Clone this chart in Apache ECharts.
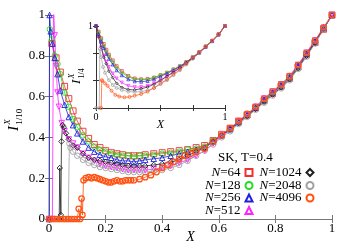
<!DOCTYPE html>
<html><head><meta charset="utf-8">
<script src="https://cdn.jsdelivr.net/npm/echarts@6/dist/echarts.min.js"></script>
<style>html,body{margin:0;padding:0;background:#fff}#c{width:353px;height:247px}</style>
</head><body><div id="c"></div>
<script>
// ---- categories / legend names ----
const seriesNames = ['N=64','N=128','N=256','N=512','N=1024','N=2048','N=4096'];
const annotation = 'SK, T=0.4';

// ---- main plot: I^X_{1/10} vs X ----
const tailX = [0.55,0.58,0.61,0.64,0.67,0.70,0.73,0.76,0.79,0.82,0.85,0.88,0.91,0.94,0.97,1.0];

const x64 = [0.01,0.025,0.04,0.055,0.07,0.085,0.10,0.12,0.14,0.16,0.18,0.20,0.22,0.24,0.26,0.28,0.30,0.32,0.34,0.37,0.40,0.43,0.46,0.49,0.52];
const y64 = [0.86,0.79,0.72,0.65,0.59,0.53,0.48,0.43,0.395,0.365,0.35,0.335,0.325,0.32,0.315,0.31,0.31,0.31,0.315,0.32,0.325,0.33,0.335,0.34,0.35];
const t64 = [0.36,0.385,0.415,0.445,0.48,0.51,0.545,0.58,0.615,0.65,0.69,0.745,0.805,0.865,0.93,1.0];

const x128 = [0.003,0.01,0.02,0.03,0.04,0.055,0.07,0.085,0.10,0.12,0.14,0.16,0.18,0.20,0.22,0.24,0.26,0.28,0.30,0.32,0.34,0.37,0.40,0.43,0.46,0.49,0.52];
const y128 = [0.93,0.88,0.80,0.76,0.71,0.62,0.55,0.49,0.45,0.41,0.38,0.355,0.34,0.33,0.32,0.315,0.31,0.31,0.305,0.31,0.31,0.315,0.32,0.325,0.33,0.34,0.345];
const t128 = [0.355,0.385,0.41,0.44,0.475,0.51,0.545,0.58,0.62,0.655,0.695,0.75,0.81,0.87,0.935,1.0];

const x256 = [0,0.002,0.006,0.012,0.02,0.03,0.04,0.055,0.07,0.085,0.10,0.12,0.14,0.16,0.18,0.20,0.22,0.24,0.26,0.28,0.30,0.32,0.34,0.37,0.40,0.43,0.46,0.49,0.52];
const y256 = [0,1.0,0.92,0.86,0.79,0.71,0.63,0.56,0.50,0.46,0.42,0.38,0.35,0.33,0.315,0.305,0.30,0.29,0.285,0.285,0.28,0.285,0.29,0.295,0.30,0.31,0.32,0.33,0.34];
const t256 = [0.35,0.38,0.41,0.44,0.475,0.51,0.545,0.585,0.62,0.655,0.695,0.75,0.81,0.87,0.935,1.0];

const x512 = [0,0.012,0.016,0.02,0.025,0.03,0.035,0.045,0.055,0.07,0.085,0.10,0.12,0.14,0.16,0.18,0.20,0.22,0.24,0.26,0.28,0.30,0.32,0.34,0.37,0.40,0.43,0.46,0.49,0.52];
const y512 = [0,0,1.05,0.90,0.75,0.62,0.55,0.47,0.43,0.39,0.37,0.35,0.32,0.30,0.285,0.27,0.26,0.255,0.25,0.245,0.24,0.24,0.24,0.24,0.245,0.25,0.26,0.275,0.29,0.31];
const t512 = [0.335,0.37,0.405,0.44,0.475,0.51,0.55,0.59,0.625,0.66,0.70,0.755,0.815,0.875,0.935,1.0];

const x1024 = [0,0.036,0.038,0.042,0.044,0.048,0.052,0.06,0.07,0.085,0.10,0.12,0.14,0.16,0.18,0.20,0.22,0.24,0.26,0.28,0.30,0.32,0.34,0.37,0.40,0.43,0.46,0.49,0.52];
const y1024 = [0,0,0.25,0.02,0.38,0.46,0.45,0.42,0.39,0.36,0.35,0.32,0.30,0.29,0.285,0.28,0.275,0.27,0.265,0.26,0.26,0.26,0.26,0.265,0.27,0.28,0.29,0.31,0.33];
const t1024 = [0.35,0.38,0.41,0.44,0.47,0.505,0.54,0.575,0.61,0.645,0.685,0.74,0.80,0.865,0.93,1.0];

const x2048 = [0,0.068,0.072,0.076,0.085,0.10,0.12,0.14,0.16,0.18,0.20,0.22,0.24,0.26,0.28,0.30,0.32,0.34,0.37,0.40,0.43,0.46,0.49,0.52];
const y2048 = [0,0,0.37,0.35,0.33,0.31,0.29,0.275,0.265,0.255,0.25,0.245,0.24,0.235,0.23,0.23,0.23,0.23,0.235,0.24,0.25,0.265,0.285,0.31];
const t2048 = [0.335,0.365,0.40,0.43,0.465,0.50,0.535,0.57,0.605,0.64,0.68,0.735,0.795,0.86,0.93,1.0];

const x4096 = [0,0.01,0.02,0.03,0.04,0.05,0.06,0.07,0.08,0.09,0.10,0.105,0.11,0.115,0.118,0.122,0.13,0.14,0.15,0.16,0.17,0.18,0.19,0.20,0.21,0.22,0.23,0.24,0.25,0.26,0.27,0.28,0.29,0.30,0.32,0.34,0.36,0.38,0.40,0.42,0.44,0.46,0.48,0.50,0.52];
const y4096 = [0,0,0,0,0,0,0,0,0,0,0,0.05,0,0.10,0.02,0.19,0.20,0.205,0.20,0.205,0.20,0.195,0.19,0.185,0.18,0.18,0.185,0.19,0.185,0.185,0.19,0.19,0.19,0.19,0.195,0.205,0.215,0.23,0.25,0.265,0.28,0.295,0.31,0.32,0.33];
const t4096 = [0.345,0.38,0.41,0.445,0.48,0.515,0.55,0.59,0.625,0.66,0.70,0.755,0.815,0.875,0.94,1.0];

// ---- inset: I^X_{1/4} vs X ----
const xin = [0,0.02,0.04,0.06,0.08,0.10,0.13,0.16,0.20,0.25,0.30,0.35,0.40,0.45,0.50,0.55,0.60,0.65,0.70,0.75,0.80,0.85,0.90,0.95,1.0];
const in64   = [1.0,0.93,0.85,0.78,0.71,0.65,0.58,0.51,0.45,0.39,0.36,0.35,0.355,0.37,0.40,0.43,0.47,0.51,0.56,0.62,0.68,0.75,0.82,0.90,1.0];
const in128  = [1.0,0.92,0.84,0.76,0.69,0.63,0.56,0.49,0.43,0.38,0.35,0.345,0.35,0.37,0.40,0.43,0.47,0.51,0.56,0.62,0.68,0.75,0.82,0.90,1.0];
const in256  = [1.0,0.90,0.81,0.73,0.66,0.60,0.53,0.46,0.40,0.35,0.325,0.32,0.33,0.35,0.385,0.42,0.46,0.505,0.555,0.615,0.675,0.745,0.815,0.895,1.0];
const in512  = [1.0,0.86,0.74,0.64,0.56,0.50,0.42,0.36,0.31,0.27,0.255,0.255,0.27,0.30,0.34,0.39,0.44,0.49,0.55,0.61,0.675,0.745,0.815,0.895,1.0];
const in1024 = [1.0,0.87,0.74,0.62,0.54,0.45,0.37,0.30,0.25,0.225,0.22,0.235,0.255,0.29,0.335,0.385,0.435,0.49,0.55,0.61,0.675,0.745,0.815,0.895,1.0];
const xin2048 = [0,0.025,0.03,0.04,0.055,0.07,0.10,0.13,0.16,0.20,0.25,0.30,0.35,0.40,0.45,0.50,0.55,0.60,0.65,0.70,0.75,0.80,0.85,0.90,0.95,1.0];
const in2048 = [0,0,0.72,0.62,0.50,0.43,0.34,0.28,0.245,0.22,0.20,0.195,0.20,0.215,0.245,0.29,0.34,0.40,0.46,0.53,0.60,0.67,0.745,0.815,0.895,1.0];
const xin4096 = [0.04,0.045,0.05,0.07,0.09,0.12,0.15,0.18,0.22,0.26,0.30,0.35,0.40,0.45,0.50,0.55,0.60,0.65,0.70,0.75,0.80,0.85,0.90,0.95,1.0];
const in4096 = [0,0.34,0.33,0.30,0.27,0.21,0.16,0.14,0.13,0.135,0.15,0.17,0.20,0.245,0.30,0.35,0.41,0.47,0.54,0.61,0.68,0.75,0.82,0.90,1.0];

// ---- tick labels ----
const xTicks = [0,0.2,0.4,0.6,0.8,1];
const yTicks = [0,0.2,0.4,0.6,0.8,1];

const colors = ['#f03030','#22dd22','#2020e0','#ff22ff','#202020','#a0a0a0','#ff5010'];
const symbols = ['rect','circle','triangle','triangle','diamond','circle','circle'];
const rotates = [0,0,0,180,0,0,0];

const mainX = [x64.concat(tailX), x128.concat(tailX), x256.concat(tailX), x512.concat(tailX), x1024.concat(tailX), x2048.concat(tailX), x4096.concat(tailX)];
const mainY = [y64.concat(t64), y128.concat(t128), y256.concat(t256), y512.concat(t512), y1024.concat(t1024), y2048.concat(t2048), y4096.concat(t4096)];
const insX = [xin, xin, xin, xin, xin, xin2048, xin4096];
const insY = [in64, in128, in256, in512, in1024, in2048, in4096];

const serif = 'Liberation Serif';
const series = [];
function addSeries(i, xs, ys, axis, size, lw, bw, zBase) {
  const data = xs.map((x, k) => [x, ys[k]]);
  series.push({
    name: 'line' + axis + '_' + i, type: 'line', xAxisIndex: axis, yAxisIndex: axis,
    data: data, showSymbol: false, symbol: 'none',
    lineStyle: { color: colors[i], width: lw }, itemStyle: { color: colors[i] },
    emphasis: { disabled: true }, animation: false, z: zBase + i
  });
  series.push({
    name: axis === 0 ? seriesNames[i] : 'pts' + axis + '_' + i, type: 'scatter', xAxisIndex: axis, yAxisIndex: axis,
    data: data, symbol: symbols[i], symbolRotate: rotates[i], symbolSize: size,
    itemStyle: { color: 'rgba(255,255,255,0)', borderColor: colors[i], borderWidth: bw, opacity: 1 },
    emphasis: { disabled: true }, animation: false, z: zBase + 10 + i
  });
}
for (let i = 0; i < 7; i++) addSeries(i, mainX[i], mainY[i], 0, i === 0 ? 6 : 5.5, 0.8, i === 6 ? 1.2 : 0.9, 2);
for (let i = 0; i < 7; i++) addSeries(i, insX[i], insY[i], 2, 3, 0.7, 0.7, 30);

const lab = { fontFamily: serif, fontSize: 13, color: '#000' };
const mainAxisLine = { lineStyle: { color: '#777', width: 1 } };
const inAxisLine = { lineStyle: { color: '#333', width: 1 } };
const richBase = { fontFamily: serif, fontSize: 13, color: '#000', lineHeight: 13 };
const legendText = {
  fontFamily: serif, fontSize: 13, color: '#000', lineHeight: 13,
  rich: { i: Object.assign({ fontStyle: 'italic' }, richBase), r: Object.assign({}, richBase) }
};
const legendPos = [[99.5, 166], [99.5, 179], [99.5, 191.5], [99.5, 204], [38.5, 166], [38.5, 179], [38.5, 191.5]];
const legends = seriesNames.map((n, i) => ({
  data: [n], orient: 'vertical', right: legendPos[i][0], top: legendPos[i][1], align: 'right',
  itemWidth: 7, itemHeight: 7, selectedMode: false, padding: 0,
  formatter: nm => '{i|N}{r|' + nm.slice(1) + '}', textStyle: legendText
}));

function titleGroup(x, y, sub, isz) {
  return {
    type: 'group', x: x, y: y, rotation: Math.PI / 2,
    children: [
      { type: 'text', x: 0, y: 0, style: { text: 'I', font: 'italic ' + isz + 'px ' + serif, fill: '#000', verticalAlign: 'middle', align: 'left' } },
      { type: 'text', x: isz * 0.42, y: -isz * 0.42, style: { text: 'X', font: 'italic ' + Math.round(isz * 0.62) + 'px ' + serif, fill: '#000', verticalAlign: 'middle', align: 'left' } },
      { type: 'text', x: isz * 0.42, y: isz * 0.35, style: { text: sub, font: Math.round(isz * 0.6) + 'px ' + serif, fill: '#000', verticalAlign: 'middle', align: 'left' } }
    ]
  };
}

const chart = echarts.init(document.getElementById('c'), null, { renderer: 'canvas' });
chart.setOption({
  backgroundColor: '#fff',
  animation: false,
  grid: [
    { left: 49, right: 21, top: 15, bottom: 28, containLabel: false, outerBoundsMode: 'none' },
    { left: 96, right: 128, top: 26, bottom: 139, containLabel: false, outerBoundsMode: 'none' }
  ],
  xAxis: [
    { gridIndex: 0, type: 'value', min: 0, max: 1, interval: 0.2, position: 'bottom',
      axisLine: mainAxisLine, axisTick: { inside: true, length: 4, lineStyle: { color: '#777' } },
      axisLabel: Object.assign({ margin: 3, formatter: v => String(xTicks.find(t => Math.abs(t - v) < 1e-6) ?? v) }, lab),
      splitLine: { show: false }, nameMoveOverlap: false,
      name: 'X', nameLocation: 'middle', nameGap: 11, nameTextStyle: { fontFamily: serif, fontSize: 14, fontStyle: 'italic', color: '#000' } },
    { gridIndex: 0, type: 'value', min: 0, max: 1, interval: 0.2, position: 'top',
      axisLine: mainAxisLine, axisTick: { inside: true, length: 4, lineStyle: { color: '#777' } },
      axisLabel: { show: false }, splitLine: { show: false } },
    { gridIndex: 1, type: 'value', min: 0, max: 1, interval: 0.25, position: 'bottom',
      axisLine: inAxisLine, axisTick: { inside: true, length: 3, lineStyle: { color: '#333' } },
      axisLabel: { margin: 4, fontFamily: serif, fontSize: 10, color: '#000', formatter: v => (v === 0 ? '0' : v === 1 ? '1' : '') },
      splitLine: { show: false }, nameMoveOverlap: false,
      name: 'X', nameLocation: 'middle', nameGap: 11, nameTextStyle: { fontFamily: serif, fontSize: 12, fontStyle: 'italic', color: '#000' } },
    { gridIndex: 1, type: 'value', min: 0, max: 1, interval: 0.25, position: 'top',
      axisLine: inAxisLine, axisTick: { inside: true, length: 3, lineStyle: { color: '#333' } },
      axisLabel: { show: false }, splitLine: { show: false } }
  ],
  yAxis: [
    { gridIndex: 0, type: 'value', min: 0, max: 1, interval: 0.2, position: 'left',
      axisLine: Object.assign({ show: true }, mainAxisLine), axisTick: { show: true, inside: true, length: 4, lineStyle: { color: '#777' } },
      axisLabel: Object.assign({ margin: 4, formatter: v => String(yTicks.find(t => Math.abs(t - v) < 1e-6) ?? v) }, lab),
      splitLine: { show: false } },
    { gridIndex: 0, type: 'value', min: 0, max: 1, interval: 0.2, position: 'right',
      axisLine: Object.assign({ show: true }, mainAxisLine), axisTick: { show: true, inside: true, length: 4, lineStyle: { color: '#777' } },
      axisLabel: { show: false }, splitLine: { show: false } },
    { gridIndex: 1, type: 'value', min: 0, max: 1, interval: 1 / 3, position: 'left',
      axisLine: Object.assign({ show: true }, inAxisLine), axisTick: { show: true, inside: true, length: 3, lineStyle: { color: '#333' } },
      axisLabel: { margin: 3, fontFamily: serif, fontSize: 10, color: '#000', formatter: v => (Math.abs(v - 1) < 1e-6 ? '1' : '') },
      splitLine: { show: false } },
    { gridIndex: 1, type: 'value', min: 0, max: 1, interval: 1 / 3, position: 'right',
      axisLine: Object.assign({ show: true }, inAxisLine), axisTick: { show: true, inside: true, length: 3, lineStyle: { color: '#333' } },
      axisLabel: { show: false }, splitLine: { show: false } }
  ],
  legend: legends,
  graphic: [
    { type: 'text', left: 218, top: 151, style: { text: annotation, font: '13px ' + serif, fill: '#000' } },
    titleGroup(14, 131, '1/10', 15),
    titleGroup(77, 84, '1/4', 13)
  ],
  series: series
});
</script>
</body></html>
